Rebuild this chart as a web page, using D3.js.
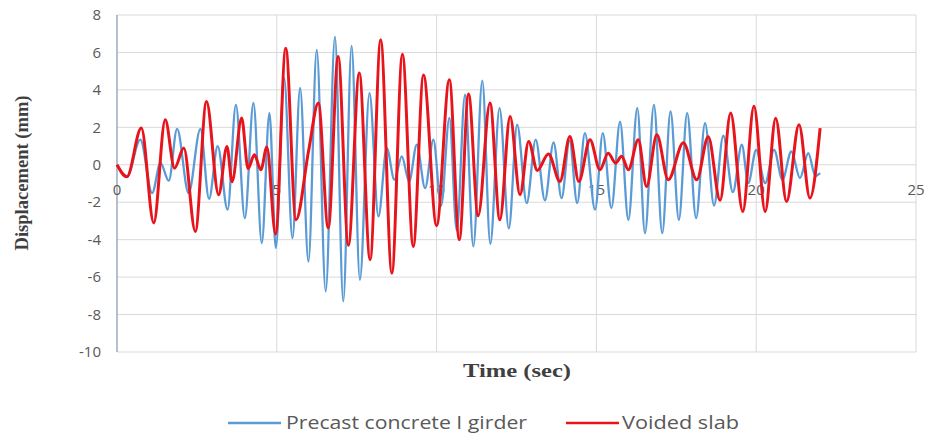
<!DOCTYPE html>
<meta charset="utf-8">
<title>Displacement vs time</title>
<style>
body { margin: 0; background: #fff; }
.tick-label { font-family: "Open Sans", sans-serif; font-size: 15px; fill: #595959; }
.axis-title { font-family: "Liberation Serif", serif; font-weight: bold; font-size: 18px; fill: #3f3f3f; }
.legend text { font-family: "Open Sans", sans-serif; font-size: 18px; fill: #595959; }
</style>
<body>
<svg width="933" height="437" id="svg"></svg>
<script src="https://d3js.org/d3.v7.min.js"></script>
<script>

// Voided slab (red) - peaks and troughs
var slabTime = [0, 0.31, 0.76, 1.15, 1.51, 1.8, 2.09, 2.45, 2.8, 3.18, 3.44, 3.6, 3.9, 4.1, 4.3, 4.5, 4.69, 4.96,
  5.28, 5.6, 6.0, 6.3, 6.61, 6.92, 7.24, 7.58, 7.92, 8.25, 8.6, 8.93, 9.27, 9.59, 10.0, 10.4, 10.71, 11.0,
  11.3, 11.67, 11.98, 12.3, 12.61, 12.88, 13.15, 13.5, 13.86, 14.17, 14.45, 14.8, 15.11, 15.37, 15.6, 15.79,
  16.0, 16.31, 16.57, 16.89, 17.25, 17.72, 18.14, 18.5, 18.87, 19.2, 19.58, 19.93, 20.28, 20.61, 20.95,
  21.34, 21.68, 22.0];
var slabDisp = [0, -0.64, 1.96, -3.1, 2.4, -0.18, 0.89, -3.56, 3.38, -1.6, 0.98, -0.9, 2.5, -0.2, 0.53, -0.27, 0.95, -3.7,
  6.23, -2.94, 0.8, 3.3, -3.38, 5.79, -4.3, 4.9, -5.07, 6.68, -5.79, 5.91, -4.36, 4.8, -3.25, 4.54, -4.0, 3.78,
  -2.72, 3.3, -2.94, 2.58, -1.6, 1.25, -0.3, 0.58, -0.89, 1.51, -0.89, 1.34, -0.27, 0.62, 0.09, 0.45,
  -0.27, 1.34, -1.16, 1.6, -0.8, 1.18, -0.8, 1.5, -1.9, 2.76, -2.49, 3.12, -2.49, 2.49, -1.96,
  2.14, -1.78, 1.96];

// Precast concrete I girder (blue)
var girderTime = [0, 0.31, 0.73, 1.1, 1.36, 1.62, 1.88, 2.24, 2.61, 2.88, 3.15, 3.46, 3.72, 4.0, 4.27, 4.53, 4.77, 4.97,
  5.23, 5.49, 5.73, 5.99, 6.25, 6.53, 6.82, 7.08, 7.34, 7.6, 7.9, 8.18, 8.44, 8.68, 8.91, 9.14, 9.38, 9.64,
  9.9, 10.14, 10.4, 10.63, 10.89, 11.15, 11.43, 11.68, 11.97, 12.26, 12.52, 12.82, 13.1, 13.39, 13.66, 13.91,
  14.16, 14.4, 14.64, 14.96, 15.2, 15.47, 15.74, 16.0, 16.28, 16.52, 16.8, 17.06, 17.32, 17.58, 17.84, 18.12,
  18.4, 18.68, 18.97, 19.27, 19.55, 19.75, 20.0, 20.28, 20.56, 20.82, 21.1, 21.37, 21.63, 21.85, 22.0];
var girderDisp = [0, -0.64, 1.34, -1.51, 0.1, -0.85, 1.92, -1.51, 1.92, -1.82, 1.0, -2.4, 3.2, -2.85, 3.3, -4.18, 2.76, -4.45,
  4.63, -3.92, 4.1, -5.17, 6.14, -6.77, 6.85, -7.3, 6.35, -6.14, 3.83, -2.76, 0.89, -0.8, 0.45, -0.89, 1.07, -1.25,
  1.34, -2.2, 2.5, -3.5, 3.74, -4.36, 4.5, -4.22, 3.03, -3.4, 2.14, -2.05, 1.34, -1.9, 1.2, -1.78,
  1.3, -2.05, 1.69, -2.4, 1.69, -2.31, 2.31, -2.94, 3.03, -3.65, 3.2, -3.65, 2.85, -2.94, 2.76, -2.85,
  2.23, -2.18, 1.55, -1.46, 1.07, -0.98, 0.8, -0.98, 0.8, -0.8, 0.71, -0.71, 0.62, -0.6, -0.45];

var xTicks = [0, 5, 10, 15, 20, 25];
var yTicks = [-10, -8, -6, -4, -2, 0, 2, 4, 6, 8];
var seriesNames = ["Precast concrete I girder", "Voided slab"];
var seriesColors = ["#5b9bd5", "#e8141b"];

var svg = d3.select("svg");

var x = d3.scaleLinear().domain([0, 25]).range([117, 916]);
var y = d3.scaleLinear().domain([-10, 8]).range([352, 15]);

// gridlines
svg.append("g").selectAll("line")
    .data(yTicks)
    .enter().append("line")
      .attr("x1", x(0)).attr("x2", x(25))
      .attr("y1", function(d) { return y(d); })
      .attr("y2", function(d) { return y(d); })
      .attr("stroke", "#d9d9d9")
      .attr("stroke-width", 1);

svg.append("g").selectAll("line")
    .data(xTicks.slice(1))
    .enter().append("line")
      .attr("x1", function(d) { return x(d); })
      .attr("x2", function(d) { return x(d); })
      .attr("y1", y(8)).attr("y2", y(-10))
      .attr("stroke", "#d9d9d9")
      .attr("stroke-width", 1);

// value axis line
svg.append("line")
    .attr("x1", x(0)).attr("x2", x(0))
    .attr("y1", y(8)).attr("y2", y(-10))
    .attr("stroke", "#9eaabb")
    .attr("stroke-width", 1.5);

// y tick labels
svg.append("g").selectAll("text")
    .data(yTicks)
    .enter().append("text")
      .attr("class", "tick-label")
      .attr("x", 101)
      .attr("y", function(d) { return y(d); })
      .attr("dy", "0.35em")
      .attr("text-anchor", "end")
      .text(function(d) { return d; });

// x tick labels sit just under the zero line
svg.append("g").selectAll("text")
    .data(xTicks)
    .enter().append("text")
      .attr("class", "tick-label")
      .attr("x", function(d) { return x(d); })
      .attr("y", y(0) + 25)
      .attr("dy", "0.35em")
      .attr("text-anchor", "middle")
      .text(function(d) { return d; });

var line = d3.line()
    .x(function(d) { return x(d[0]); })
    .y(function(d) { return y(d[1]); })
    .curve(d3.curveMonotoneX);

var girder = d3.zip(girderTime, girderDisp);
var slab = d3.zip(slabTime, slabDisp);

svg.append("path")
    .datum(girder)
    .attr("fill", "none")
    .attr("stroke", seriesColors[0])
    .attr("stroke-width", 2.3)
    .attr("stroke-linejoin", "round")
    .attr("d", line);

svg.append("path")
    .datum(slab)
    .attr("fill", "none")
    .attr("stroke", seriesColors[1])
    .attr("stroke-width", 3)
    .attr("stroke-linejoin", "round")
    .attr("d", line);

// axis titles
svg.append("text")
    .attr("class", "axis-title")
    .attr("transform", "translate(28,173) rotate(-90)")
    .attr("text-anchor", "middle")
    .attr("textLength", 155)
    .attr("lengthAdjust", "spacingAndGlyphs")
    .text("Displacement (mm)");

svg.append("text")
    .attr("class", "axis-title")
    .attr("x", 517)
    .attr("y", 377)
    .attr("text-anchor", "middle")
    .attr("textLength", 108)
    .attr("lengthAdjust", "spacingAndGlyphs")
    .text("Time (sec)");

// legend
var legend = svg.append("g").attr("class", "legend");
var legendPos = [{lx: 228, tx: 286, w: 241}, {lx: 566, tx: 622, w: 117}];

legend.selectAll("line")
    .data(seriesNames)
    .enter().append("line")
      .attr("x1", function(d, i) { return legendPos[i].lx; })
      .attr("x2", function(d, i) { return legendPos[i].lx + 53; })
      .attr("y1", 423).attr("y2", 423)
      .attr("stroke", function(d, i) { return seriesColors[i]; })
      .attr("stroke-width", 2.5);

legend.selectAll("text")
    .data(seriesNames)
    .enter().append("text")
      .attr("x", function(d, i) { return legendPos[i].tx; })
      .attr("y", 423)
      .attr("dy", "0.35em")
      .attr("textLength", function(d, i) { return legendPos[i].w; })
      .attr("lengthAdjust", "spacingAndGlyphs")
      .text(function(d) { return d; });

</script>
</body>
